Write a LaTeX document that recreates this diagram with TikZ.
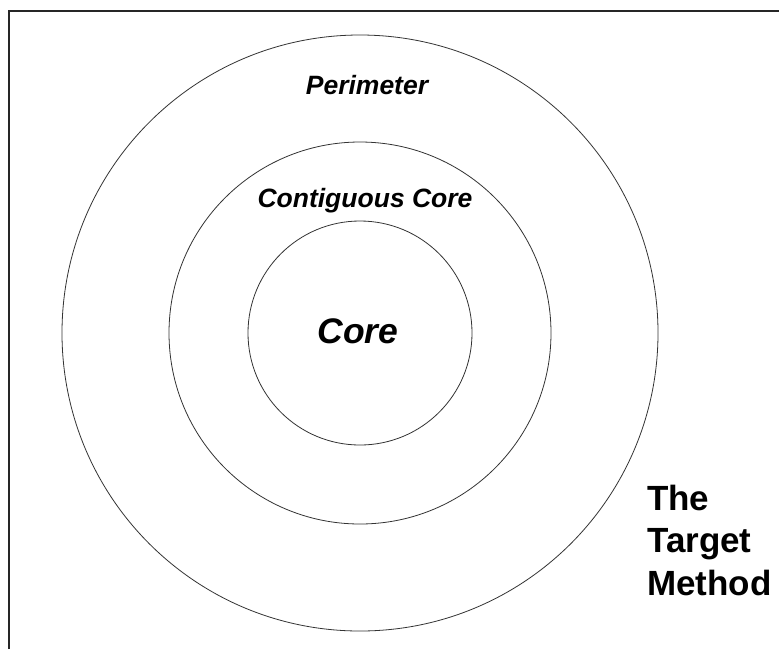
\documentclass[tikz,border=0pt]{standalone}
\usepackage{fontspec}
\setmainfont{Liberation Sans}
\begin{document}
\begin{tikzpicture}[x=1pt,y=-1pt,
  ring/.style={draw=black!80,line width=0.8pt},
  ringlabel/.style={font=\bfseries\itshape\fontsize{26.5}{30}\selectfont,anchor=base,inner sep=0pt},
  titlelabel/.style={font=\bfseries\fontsize{35}{42}\selectfont,anchor=base west,inner sep=0pt}]
\useasboundingbox (0,0) rectangle (779,649);
\fill[white] (0,0) rectangle (779,649);
\draw[line width=2.6pt,black!85] (9,649) -- (9,11) -- (779,11);
\coordinate (c) at (360,333);
\draw[ring] (c) circle (298);
\draw[ring] (c) circle (191);
\draw[ring] (c) circle (112);
\node[ringlabel] (per) at (367,94) {Perimeter};
\node[ringlabel] (cont) at (365,207) {Contiguous Core};
\node[font=\bfseries\itshape\fontsize{35.5}{40}\selectfont,anchor=base,inner sep=0pt] (core) at (358,343) {Core};
\node[titlelabel] (the) at (647,510) {The};
\node[titlelabel] (tgt) at (647,552) {Target};
\node[titlelabel] (meth) at (647,595) {Method};
\end{tikzpicture}
\end{document}
